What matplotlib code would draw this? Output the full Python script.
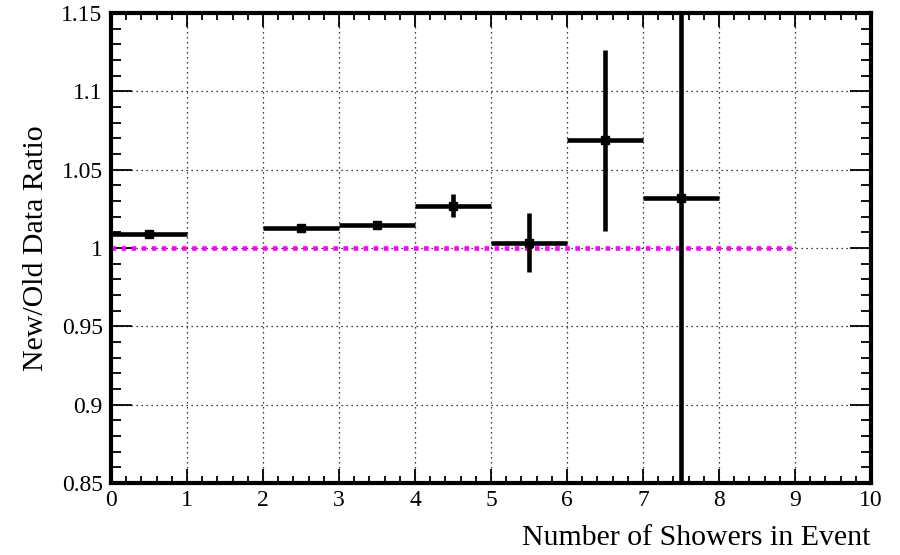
import matplotlib
matplotlib.use("Agg")
import matplotlib.pyplot as plt
from matplotlib.ticker import MultipleLocator

# Data
bin_centers = [0.5, 2.5, 3.5, 4.5, 5.5, 6.5, 7.5]
bin_half_width = [0.5, 0.5, 0.5, 0.5, 0.5, 0.5, 0.5]
ratio = [1.009, 1.0125, 1.015, 1.027, 1.0035, 1.0687, 1.0318]
ratio_err = [0.0012, 0.0012, 0.0012, 0.0075, 0.019, 0.058, 0.25]
ref_x = [0, 9]
ref_y = [1.0, 1.0]

plt.rcParams['font.family'] = ['Liberation Serif', 'DejaVu Serif']

fig = plt.figure(figsize=(9, 5.55), dpi=100)
ax = fig.add_axes([111/900, 1-483/555, (871-111)/900, (483-13)/555])

ax.set_xlim(0, 10)
ax.set_ylim(0.85, 1.15)

ax.grid(True, which='major', color='black', linestyle=(0, (1, 3)), linewidth=0.9)
ax.set_axisbelow(True)

ax.plot(ref_x, ref_y, color='#ff00ff', linewidth=3.3, linestyle=(0, (1.0, 1.2)),
        dash_capstyle='butt', zorder=2)

ax.errorbar(bin_centers, ratio, xerr=bin_half_width, yerr=ratio_err, fmt='s',
            color='black', ms=6, elinewidth=3.3, capsize=0, zorder=3)

ax.xaxis.set_major_locator(MultipleLocator(1))
ax.xaxis.set_minor_locator(MultipleLocator(0.2))
ax.yaxis.set_major_locator(MultipleLocator(0.05))
ax.yaxis.set_minor_locator(MultipleLocator(0.01))
ax.set_yticks([0.85, 0.9, 0.95, 1.0, 1.05, 1.1, 1.15])
ax.set_yticklabels(['0.85', '0.9', '0.95', '1', '1.05', '1.1', '1.15'])
ax.set_xticks(range(11))
ax.set_xticklabels([str(i) for i in range(11)])

for s in ax.spines.values():
    s.set_linewidth(3)
ax.tick_params(axis='both', which='both', direction='in', top=True, right=True, width=1.3)
ax.tick_params(axis='x', which='major', length=10, labelsize=17, pad=5)
ax.tick_params(axis='x', which='minor', length=5)
ax.tick_params(axis='y', which='major', length=15, labelsize=17, pad=6)
ax.tick_params(axis='y', which='minor', length=7.5)

ax.set_xlabel('Number of Showers in Event', fontsize=21.5, loc='right', labelpad=10)
ax.set_ylabel('New/Old Data Ratio', fontsize=21.5, labelpad=9)

fig.savefig('out.png', dpi=100)
